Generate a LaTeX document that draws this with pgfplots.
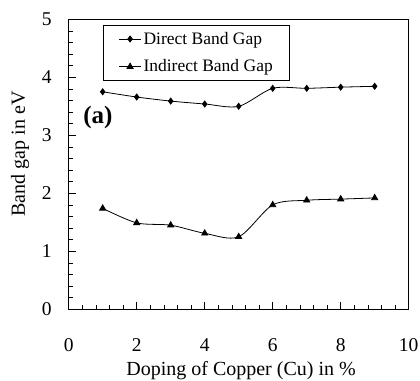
\documentclass[border=0pt]{standalone}
\usepackage{fontspec}
\setmainfont{Liberation Serif}
\usepackage{pgfplots}
\pgfplotsset{compat=1.18}
\begin{document}
\begin{tikzpicture}
\useasboundingbox (-68.7pt,-70.7pt) rectangle (351.3pt,309.3pt);
\begin{axis}[
  scale only axis,
  width=340pt, height=290pt,
  at={(0pt,0pt)}, anchor=south west,
  xmin=0, xmax=10, ymin=0, ymax=5,
  xtick={0,2,4,6,8,10}, ytick={0,1,2,3,4,5},
  minor x tick num=4, minor y tick num=4,
  xtick pos=bottom, ytick pos=left,
  tick align=inside,
  major tick length=7pt, minor tick length=4pt,
  axis line style={line width=0.8pt},
  every tick/.style={black, line width=0.6pt},
  /pgf/number format/assume math mode=true,
  tick label style={font=\fontsize{19.5}{22}\selectfont},
  xticklabel style={anchor=center, yshift=-35.7pt},
  yticklabel style={anchor=center, xshift=-22pt},
  xlabel={Doping of Copper (Cu) in \%},
  ylabel={Band gap in eV},
  label style={font=\fontsize{20}{22}\selectfont},
  xlabel style={at={(axis description cs:0.507,-0.2266)}, anchor=base},
  ylabel style={at={(axis description cs:-0.1432,0.536)}, anchor=center},
  legend style={at={(axis description cs:0,1)}, anchor=north west, xshift=34.6pt, yshift=-5.5pt,
    draw=black, line width=0.8pt, fill=white, font=\fontsize{17.5}{20}\selectfont,
    row sep=10pt, inner xsep=15pt, inner ysep=5pt, cells={anchor=west}},
  legend image code/.code={\draw[mark repeat=2,mark phase=2,#1] plot coordinates {(0pt,0pt)(11pt,0pt)(22pt,0pt)};},
  legend cell align=left,
]
\addplot[black, line width=0.8pt, smooth, tension=0.5, mark=diamond*, mark size=3pt, mark options={solid, fill=black}]
coordinates {(1,3.75) (2,3.66) (3,3.59) (4,3.54) (5,3.50) (6,3.81) (7,3.81) (8,3.83) (9,3.845)};
\addlegendentry{Direct Band Gap}
\addplot[black, line width=0.8pt, smooth, tension=0.5, mark=triangle*, mark size=3.5pt, mark options={solid, fill=black}]
coordinates {(1,1.74) (2,1.49) (3,1.45) (4,1.31) (5,1.25) (6,1.80) (7,1.88) (8,1.90) (9,1.92)};
\addlegendentry{Indirect Band Gap}
\node[font=\bfseries\fontsize{25}{28}\selectfont] at (axis cs:0.86,3.3) {(a)};
\end{axis}
\end{tikzpicture}
\end{document}
